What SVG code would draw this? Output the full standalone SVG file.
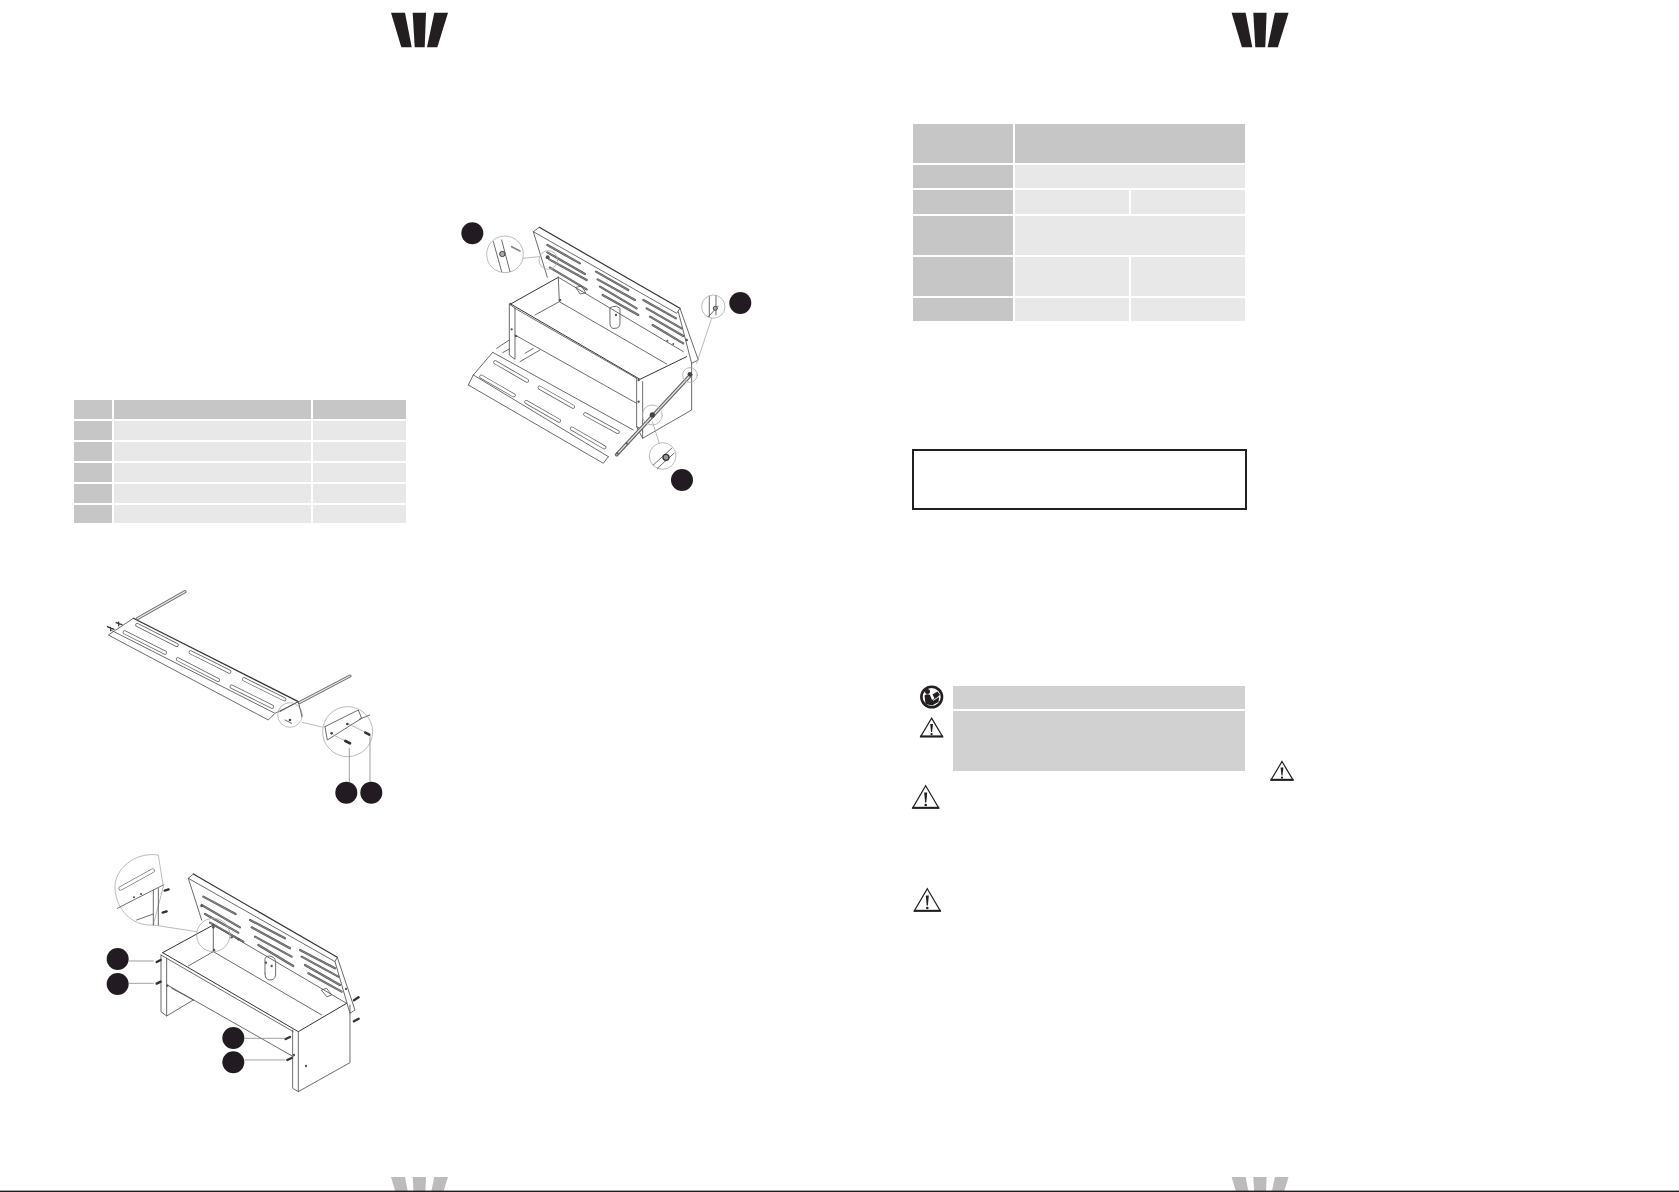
<svg xmlns="http://www.w3.org/2000/svg" width="1679" height="1192" viewBox="0 0 1679 1192">
<style>
.dk{fill:#c6c6c6}.lt{fill:#e8e8e8}.band{fill:#d1d1d1}
.logo{fill:#231f20}.logo2{fill:#bcbcbc}
.ink{fill:#231f20}
.l{fill:none;stroke:#555;stroke-width:2.6;stroke-linejoin:round;stroke-linecap:round}
.b{fill:none;stroke:#333;stroke-width:3.6;stroke-linejoin:round;stroke-linecap:round}
.g{fill:none;stroke:#aaa;stroke-width:2.4;stroke-linecap:round}
.m{fill:#fff;stroke:#aaa;stroke-width:2.4}
.d{fill:#444}
.s1{fill:none;stroke:#666;stroke-width:12;stroke-linecap:round}
.s2{fill:none;stroke:#fff;stroke-width:7.5;stroke-linecap:round}
.t1{fill:none;stroke:#555;stroke-width:6.5;stroke-linecap:round}
.t2{fill:none;stroke:#bbb;stroke-width:1.6;stroke-linecap:round}
.r1{fill:none;stroke:#666;stroke-width:9;stroke-linecap:round}
.r2{fill:none;stroke:#e4e4e4;stroke-width:4;stroke-linecap:round}
.tri{fill:#fff;stroke:#231f20;stroke-width:1.2;stroke-linejoin:miter}
.base{fill:none;stroke:#231f20;stroke-width:2}
</style>
<defs>
<filter id="soft" x="-5%" y="-5%" width="110%" height="110%"><feGaussianBlur stdDeviation="1"/></filter>
<g id="logoShape"><polygon points="391,12.7 405,12.7 411.7,47.3 401.3,47.3"/><polygon points="412.7,12.7 426,12.7 424.7,47.3 414.7,47.3"/><polygon points="434.3,12.7 448,12.7 437.3,47.3 427,47.3"/></g>
<g id="warn"><polygon class="tri" points="0,-11.3 13,11 -13,11"/><path class="base" d="M-13.5,10.8H13.5"/><path d="M-1.5,-4.5H1.5L.6,5.5H-.6Z" fill="#231f20"/><circle cy="8" r="1.3" fill="#231f20"/></g>
<g id="warnSmall"><polygon class="tri" points="0,-9.5 11,9 -11,9"/><path class="base" d="M-11.5,8.8H11.5"/><path d="M-1.4,-3.5H1.4L.5,4.5H-.5Z" fill="#231f20"/><circle cy="6.6" r="1.1" fill="#231f20"/></g>
<path id="slotsA1" d="M226,487L321,542M184,530L281,586M359,563L459,620M319,606L417,662M496,643L593,696M456,686L553,742"/>
<path id="slotsA2" d="M382,135L480,190M382,157L495,222M388,178L500,240M390,203L500,268M528,215L625,270M533,238L645,300M540,260L650,325M548,285L655,345M670,300L768,355M680,325L785,385M690,350L790,408M698,375L790,430"/>
<path id="slotsB" d="M142,165L260,225M104,187L225,248M302,247L418,305M264,268L384,330M462,328L583,388M425,350L546,410"/>
<path id="slotsC" d="M340,170L437,222M335,195L450,262M345,222L445,278M360,248L460,305M480,240L585,295M485,262L600,325M495,290L605,350M505,315L610,378M630,330L735,385M635,350L745,410M645,375L750,435M655,400L755,455"/>
</defs>

<g id="logos">
<use href="#logoShape" class="logo"/>
<use href="#logoShape" class="logo" x="840.6"/>
<use href="#logoShape" class="logo2" y="1164.3"/>
<use href="#logoShape" class="logo2" x="840.6" y="1164.3"/>
<rect x="0" y="1190.6" width="1679" height="1.4" fill="#231f20"/>
</g>

<g id="table-parts">
<rect class="dk" x="74" y="400" width="38" height="19"/><rect class="dk" x="114" y="400" width="197" height="19"/><rect class="dk" x="313" y="400" width="93" height="19"/>
<rect class="dk" x="74" y="421" width="38" height="19"/><rect class="lt" x="114" y="421" width="197" height="19"/><rect class="lt" x="313" y="421" width="93" height="19"/>
<rect class="dk" x="74" y="442" width="38" height="19"/><rect class="lt" x="114" y="442" width="197" height="19"/><rect class="lt" x="313" y="442" width="93" height="19"/>
<rect class="dk" x="74" y="463" width="38" height="19"/><rect class="lt" x="114" y="463" width="197" height="19"/><rect class="lt" x="313" y="463" width="93" height="19"/>
<rect class="dk" x="74" y="484" width="38" height="19"/><rect class="lt" x="114" y="484" width="197" height="19"/><rect class="lt" x="313" y="484" width="93" height="19"/>
<rect class="dk" x="74" y="505" width="38" height="18"/><rect class="lt" x="114" y="505" width="197" height="18"/><rect class="lt" x="313" y="505" width="93" height="18"/>
</g>

<g id="table-spec">
<rect class="dk" x="913" y="124" width="100" height="39"/><rect class="dk" x="1015" y="124" width="230" height="39"/>
<rect class="dk" x="913" y="165" width="100" height="23"/><rect class="lt" x="1015" y="165" width="230" height="23"/>
<rect class="dk" x="913" y="190" width="100" height="24"/><rect class="lt" x="1015" y="190" width="114" height="24"/><rect class="lt" x="1131" y="190" width="114" height="24"/>
<rect class="dk" x="913" y="216" width="100" height="39"/><rect class="lt" x="1015" y="216" width="230" height="39"/>
<rect class="dk" x="913" y="257" width="100" height="39"/><rect class="lt" x="1015" y="257" width="114" height="39"/><rect class="lt" x="1131" y="257" width="114" height="39"/>
<rect class="dk" x="913" y="298" width="100" height="23"/><rect class="lt" x="1015" y="298" width="114" height="23"/><rect class="lt" x="1131" y="298" width="114" height="23"/>
</g>

<rect id="note-box" x="913" y="450" width="333" height="59" fill="#fff" stroke="#231f20" stroke-width="2"/>

<g id="warnings">
<rect class="band" x="953" y="686" width="292" height="23"/>
<rect class="band" x="953" y="711" width="292" height="60"/>
<g id="read-icon">
<circle cx="931.7" cy="697" r="10.3" fill="#fff" stroke="#231f20" stroke-width="2.6"/>
<circle cx="927.5" cy="691.5" r="2.5" fill="#231f20"/>
<path d="M924.5,695.5Q927,693.5 930,695L932,700L938,696L939,698L938.5,702L932,705.5L925.5,704Z" fill="#231f20"/>
<path d="M932.5,694.5L937.5,691.5L940,695L934.5,698.5Z" fill="#231f20"/>
<path d="M933,700.5L938.5,697" stroke="#fff" stroke-width=".9" fill="none"/>
</g>
<use href="#warnSmall" x="931.6" y="727.6"/>
<use href="#warn" x="925.7" y="797"/>
<use href="#warn" x="927.3" y="900"/>
<use href="#warnSmall" x="1282" y="771"/>
</g>

<g id="assembly-b" transform="translate(90 570) scale(.3333)" filter="url(#soft)">
<use href="#slotsB" class="s1"/><use href="#slotsB" class="s2"/>
<path class="b" d="M130,145L625,395"/>
<path class="l" d="M130,145L55,195L535,450L553,432M62,180L555,430L625,395"/>
<path class="r1" d="M142,146L285,65M628,398L780,318"/>
<path class="r2" d="M142,146L285,65M628,398L780,318"/>
<path class="b" d="M52,170L72,178M78,158L96,164M62,172V182M86,156V168"/>
<circle class="g" cx="600" cy="435" r="37"/>
<path class="l" d="M570,425L625,395L636,440M585,450L605,460"/>
<circle class="d" cx="600" cy="450" r="4"/>
<path class="g" d="M637,457L700,472"/>
<circle class="m" cx="773" cy="485" r="75"/>
<path class="l" d="M705,470L805,420L815,445L712,510L705,470M808,448L840,435"/>
<path class="g" d="M730,495L765,512M775,462L825,486"/>
<circle class="d" cx="725" cy="490" r="4"/><circle class="d" cx="772" cy="462" r="4"/>
<path class="b" style="stroke-width:8" d="M766,513L780,520M826,488L838,494"/>
<path class="g" style="stroke:#888" d="M778,535V635M840,500V635"/>
<circle class="ink" cx="769" cy="668" r="33"/><circle class="ink" cx="844" cy="668" r="33"/>
</g>

<g id="assembly-c" transform="translate(90 840) scale(.3333)" filter="url(#soft)">
<use href="#slotsC" class="t1"/><use href="#slotsC" class="t2"/>
<path class="b" d="M310,102L742,352"/>
<path class="l" d="M295,115L310,102M295,115L735,365L742,352L795,510L780,520L735,365M295,115L335,240"/>
<path class="b" style="stroke-width:3" d="M218,338L370,255M218,338L625,575L770,490"/>
<path class="l" d="M370,255L770,490M370,255V335M295,378L370,335L695,525"/>
<path class="l" d="M230,355L610,575M232,435L610,650"/>
<path class="l" d="M213,345V515L230,528V355M213,345L230,355M230,528L310,480M245,445L310,480"/>
<path class="l" d="M608,570V745L625,755V575M625,755L780,668V495"/>
<path class="l" d="M525,400V360Q525,348 538,348Q555,350 557,365V405Q555,420 540,420Q525,420 525,400M695,450L710,445L725,465L712,470Z"/>
<circle class="g" cx="370" cy="285" r="50"/>
<path class="g" d="M190,255L320,275"/>
<path class="m" d="M205,45L220,140L190,255C120,260 75,200 75,140C75,90 130,35 205,45Z"/>
<path d="M92,145L188,92" style="fill:none;stroke:#666;stroke-width:13;stroke-linecap:round"/>
<path d="M92,145L188,92" style="fill:none;stroke:#fff;stroke-width:9;stroke-linecap:round"/>
<path class="l" d="M82,205L190,150L220,135M190,150V255M205,145V255M140,240L190,222"/>
<circle class="d" cx="132" cy="172" r="3"/><circle class="d" cx="153" cy="162" r="3"/>
<g fill="#555" stroke="none"><circle cx="335" cy="198" r="4"/><circle cx="370" cy="262" r="4"/><circle cx="372" cy="330" r="4"/><circle cx="648" cy="678" r="3.5"/><circle cx="768" cy="447" r="3.5"/><circle cx="425" cy="292" r="3.5"/><circle cx="445" cy="298" r="3.5"/><circle cx="528" cy="368" r="3.5"/><circle cx="545" cy="378" r="3.5"/><circle cx="232" cy="437" r="3.5"/><circle cx="612" cy="645" r="3.5"/></g>
<path class="b" style="stroke-width:7" d="M224,152L236,148M218,218L230,214M200,366L212,360M200,431L212,425M587,597L600,591M592,660L605,654M792,481L806,472M792,544L806,536"/>
<path class="g" style="stroke:#888" d="M118,363H190M118,430H190M465,595H585M465,660H585"/>
<circle class="ink" cx="83" cy="357" r="33"/><circle class="ink" cx="83" cy="432" r="33"/><circle class="ink" cx="430" cy="594" r="33"/><circle class="ink" cx="430" cy="667" r="33"/>
</g>

<g id="assembly-a" transform="translate(420 200) scale(.3333)" filter="url(#soft)">
<use href="#slotsA2" class="t1"/><use href="#slotsA2" class="t2"/>
<path class="b" d="M358,82L780,325"/>
<path class="l" d="M340,95L358,82M340,95L770,340L780,325L835,480L815,490L775,335M340,95L382,232"/>
<path class="b" style="stroke-width:3" d="M272,312L415,232M272,312L660,538L800,470"/>
<path class="l" d="M415,232L790,455M415,232L418,305M345,345L418,305L740,492"/>
<path class="l" d="M285,325L650,535M285,405L650,610"/>
<path class="l" d="M268,312V465L285,478V325M268,312L285,325M300,485L360,450M315,460L340,445M230,445L268,420M248,458L268,447"/>
<path class="l" d="M650,535V680L668,715V545M650,680L668,690M668,715L815,630V490"/>
<use href="#slotsA1" class="s1"/><use href="#slotsA1" class="s2"/>
<path class="l" d="M218,457L640,690M160,525L218,457M145,555L160,525M145,555L550,790L565,770M160,525L565,770"/>
<path class="l" d="M570,325V372Q572,388 585,385Q600,385 600,370V325Q590,315 578,320ZM468,262L485,258L497,278L482,282Z"/>
<path class="r1" style="stroke-width:11" d="M590,764L812,525"/><path class="r2" d="M590,764L812,525"/>
<circle class="g" cx="385" cy="180" r="28"/>
<circle class="g" cx="810" cy="525" r="22"/>
<circle class="g" cx="697" cy="645" r="30"/>
<path class="g" d="M310,175L358,170M830,490L875,355M697,665L718,730"/>
<circle class="m" cx="255" cy="163" r="55"/>
<circle class="m" cx="880" cy="320" r="35"/>
<circle class="m" cx="728" cy="768" r="40"/>
<path class="l" d="M220,125L245,215M245,120L270,215"/>
<path class="b" style="stroke-width:5;stroke:#888" d="M275,140L300,153"/>
<circle cx="247" cy="162" r="8" fill="#aaa" stroke="#444" stroke-width="3"/>
<path class="l" d="M868,290V350M888,288V345M895,318L865,350"/>
<circle cx="886" cy="325" r="6" fill="#aaa" stroke="#444" stroke-width="3"/>
<path class="l" d="M700,795L755,745M712,805L762,760"/>
<circle cx="738" cy="772" r="9" fill="#999" stroke="#333" stroke-width="4"/>
<circle cx="697" cy="645" r="8" fill="#444"/><circle cx="810" cy="523" r="7" fill="#444"/>
<circle cx="383" cy="172" r="6" fill="#555"/>
<g fill="#555"><circle cx="420" cy="300" r="4"/><circle cx="272" cy="312" r="3.5"/><circle cx="275" cy="388" r="3.5"/><circle cx="288" cy="408" r="3.5"/><circle cx="656" cy="540" r="3.5"/><circle cx="656" cy="605" r="3.5"/><circle cx="620" cy="730" r="3.5"/><circle cx="592" cy="760" r="3.5"/><circle cx="742" cy="422" r="3"/><circle cx="760" cy="432" r="3"/><circle cx="800" cy="420" r="4"/><circle cx="588" cy="345" r="3.5"/></g>
<circle class="ink" cx="157" cy="100" r="33"/><circle class="ink" cx="961" cy="309" r="33"/><circle class="ink" cx="786" cy="840" r="33"/>
</g>
</svg>
